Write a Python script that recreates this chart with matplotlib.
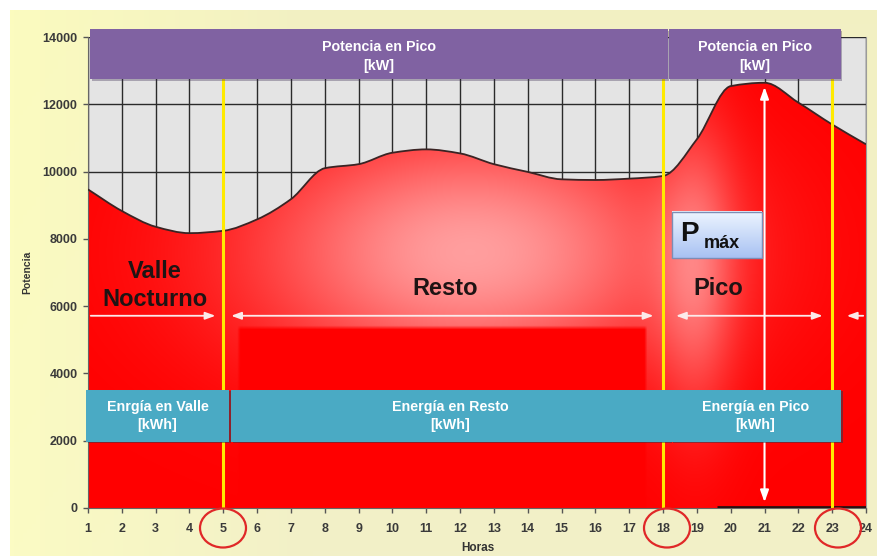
import numpy as np
import matplotlib
matplotlib.use("Agg")
import matplotlib.pyplot as plt
import matplotlib.patches as mpatches
from matplotlib.path import Path
from matplotlib import font_manager as fm

# ---------------- data ----------------
hours = list(range(1, 25))
load_kw = [9470, 8830, 8360, 8170, 8240, 8580, 9180, 10100, 10220, 10560,
           10660, 10540, 10220, 9990, 9770, 9750, 9790, 9870, 10960, 12540,
           12640, 12050, 11400, 10810]
yticks = [0, 2000, 4000, 6000, 8000, 10000, 12000, 14000]
period_bounds = [5, 18, 23]
peak_hour = 21
arrow_level = 5714

top_boxes = [("Potencia en Pico\n[kW]", 1.06, 18.14),
             ("Potencia en Pico\n[kW]", 18.17, 23.25)]
energy_boxes = [("Enrgía en Valle\n[kWh]", 0.94, 5.17),
                ("Energía en Resto\n[kWh]", 5.22, 18.2),
                ("Energía en Pico\n[kWh]", 18.22, 23.25)]

# ---------------- fonts ----------------
avail = {f.name for f in fm.fontManager.ttflist}
base_font = ["Liberation Sans", "DejaVu Sans"] if "Liberation Sans" in avail else ["DejaVu Sans"]
plt.rcParams["font.family"] = base_font
box_font = dict(fontsize=10.3, fontweight="bold")

W, H = 877, 556
fig = plt.figure(figsize=(W / 100, H / 100), dpi=100)
fig.patch.set_facecolor("white")

# background gradient (cream / pale yellow)
bg = fig.add_axes([10 / W, 0, 867 / W, 546 / H], zorder=-10)
bg.axis("off")
gx = np.linspace(0, 1, 200)[None, :]
gy = np.linspace(0, 1, 120)[:, None]
t = np.clip(gx / 0.35, 0, 1)
left = np.array([251, 251, 196]) / 255
right = np.array([242, 240, 200]) / 255
img = left[None, None, :] * (1 - t[..., None]) + right[None, None, :] * t[..., None]
img = img * np.ones((120, 1, 1))
img[..., 2] -= 0.02 * gy
bg.imshow(np.clip(img, 0, 1), aspect="auto", extent=[0, 1, 0, 1], origin="lower")
bg.set_xlim(0, 1); bg.set_ylim(0, 1)

# main axes
x0, x1, ybot, ytop = 88, 866, 508, 37
ax = fig.add_axes([x0 / W, (H - ybot) / H, (x1 - x0) / W, (ybot - ytop) / H])
ax.set_facecolor("#e4e4e4")
ax.set_axisbelow(True)
ax.grid(True, color="#2a2a2a", lw=1.0)

# curve path: monotone cubic rendering through the hourly points
px = np.array(hours, dtype=float)
py = np.array(load_kw, dtype=float)
n = len(px)
d = np.diff(py) / np.diff(px)
m = np.zeros(n)
m[0], m[-1] = d[0], d[-1]
for i in range(1, n - 1):
    if d[i - 1] * d[i] > 0:
        m[i] = 2.0 / (1.0 / d[i - 1] + 1.0 / d[i])
verts = [(px[0], 0), (px[0], py[0])]
codes = [Path.MOVETO, Path.LINETO]
cverts = [(px[0], py[0])]
ccodes = [Path.MOVETO]
for i in range(n - 1):
    h = px[i + 1] - px[i]
    seg = [(px[i] + h / 3, py[i] + m[i] * h / 3),
           (px[i + 1] - h / 3, py[i + 1] - m[i + 1] * h / 3),
           (px[i + 1], py[i + 1])]
    verts += seg; codes += [Path.CURVE4] * 3
    cverts += seg; ccodes += [Path.CURVE4] * 3
verts += [(px[-1], 0), (px[0], 0)]
codes += [Path.LINETO, Path.CLOSEPOLY]
area = mpatches.PathPatch(Path(verts, codes), facecolor="none", edgecolor="none")
ax.add_patch(area)

# red gradient fill
X, Y = np.meshgrid(np.linspace(1, 24, 700), np.linspace(0, 14000, 500))
L = 0.62 * np.exp(-((X - 12.3) / 4.5) ** 2 / 2 - ((Y - 7600) / 2600) ** 2 / 2)
L += 0.32 * np.exp(-((X - 19.0) / 0.8) ** 2 / 2 - ((Y - 7000) / 3000) ** 2 / 2)


def sstep(v, e0, e1):
    return np.clip((v - e0) / (e1 - e0), 0, 1)


mask = sstep(X, 5.40, 5.50) * (1 - sstep(X, 17.45, 17.55)) * (1 - sstep(Y, 5300, 5420))
L = np.clip(L * (1 - mask), 0, 0.68)
rgb = np.stack([np.ones_like(L), L, L], axis=-1)
im = ax.imshow(rgb, extent=[1, 24, 0, 14000], origin="lower", aspect="auto", zorder=2)
im.set_clip_path(area)
ax.add_patch(mpatches.PathPatch(Path(cverts, ccodes), fill=False, edgecolor="#3a2424",
                                lw=1.3, zorder=3))
ax.plot([19.6, 24], [40, 40], color="#2a1010", lw=2, zorder=3, solid_capstyle="butt")

# yellow period lines
for b in period_bounds:
    ax.plot([b, b], [0, 12740], color="#ffea00", lw=2.2, zorder=4)

# horizontal period arrows
akw = dict(arrowstyle="-|>,head_length=0.6,head_width=0.22", color="#fbeaea", lw=1.3)
dkw = dict(arrowstyle="<|-|>,head_length=0.6,head_width=0.22", color="#fbeaea", lw=1.3)
ax.annotate("", xy=(4.85, arrow_level), xytext=(1, arrow_level), arrowprops=akw, zorder=5)
ax.annotate("", xy=(5.15, arrow_level), xytext=(17.8, arrow_level), arrowprops=dkw, zorder=5)
ax.annotate("", xy=(18.3, arrow_level), xytext=(22.8, arrow_level), arrowprops=dkw, zorder=5)
ax.annotate("", xy=(23.35, arrow_level), xytext=(24, arrow_level), arrowprops=akw, zorder=5)
# peak arrow
ax.annotate("", xy=(peak_hour, 90), xytext=(peak_hour, max(load_kw) - 40),
            arrowprops=dict(arrowstyle="<|-|>,head_length=0.7,head_width=0.25",
                            color="#ffffff", lw=1.5), zorder=5)

# Pmax box
bx0, bx1, by0, by1 = 18.26, 20.92, 7440, 8810
grad = np.linspace(0, 1, 50)[:, None]
top_c = np.array([0.93, 0.96, 1.0]); bot_c = np.array([0.66, 0.76, 0.95])
gimg = (bot_c * (1 - grad[..., None]) + top_c * grad[..., None]) * np.ones((1, 2, 1))
ax.imshow(gimg, extent=[bx0, bx1, by0, by1], origin="lower", aspect="auto", zorder=6)
ax.add_patch(mpatches.Rectangle((bx0, by0), bx1 - bx0, by1 - by0, fill=False,
                                edgecolor="#7d8db5", lw=1.0, zorder=6.5))
ax.text(18.79, 8150, "P", fontsize=20, fontweight="bold", color="#111",
        ha="center", va="center", zorder=7)
ax.text(19.73, 7870, "máx", fontsize=13, fontweight="bold", color="#111",
        ha="center", va="center", zorder=7)

# region labels
for txt, hx, vy in [("Valle", 2.98, 7030), ("Nocturno", 2.98, 6190),
                    ("Resto", 11.55, 6520), ("Pico", 19.62, 6520)]:
    ax.text(hx, vy, txt, fontsize=17, fontweight="bold", color="#1e1414",
            ha="center", va="center", zorder=6)

# purple boxes
for label, a, b in top_boxes:
    ax.add_patch(mpatches.Rectangle((a + 0.05, 12680), b - a, 14230 - 12740,
                                    facecolor="#3a2a50", alpha=0.35, edgecolor="none",
                                    zorder=7.5, clip_on=False))
    ax.add_patch(mpatches.Rectangle((a, 12740), b - a, 14230 - 12740,
                                    facecolor="#8062a2", edgecolor="none",
                                    zorder=8, clip_on=False))
    ax.text((a + b) / 2, 13420, label, color="white", ha="center", va="center",
            linespacing=1.4, zorder=9, clip_on=False, **box_font)

# teal boxes
for label, a, b in energy_boxes:
    ax.add_patch(mpatches.Rectangle((a + 0.06, 1940), b - a, 3512 - 1973,
                                    facecolor="#1f3f50", alpha=0.5, edgecolor="none",
                                    zorder=7.5, clip_on=False))
    ax.add_patch(mpatches.Rectangle((a, 1973), b - a, 3512 - 1973,
                                    facecolor="#4aaac4", edgecolor="none",
                                    zorder=8, clip_on=False))
    ax.text((a + b) / 2, 2740, label, color="white", ha="center", va="center",
            linespacing=1.4, zorder=9, clip_on=False, **box_font)

# axes formatting
ax.set_xlim(1, 24)
ax.set_ylim(0, 14000)
ax.set_xticks(hours)
ax.set_yticks(yticks)
ax.tick_params(direction="out", length=3.5, width=1, color="#555555",
               labelsize=9, labelcolor="#3a3a3a")
ax.tick_params(axis="x", pad=7)
ax.tick_params(axis="y", pad=4)
for lbl in ax.get_xticklabels() + ax.get_yticklabels():
    lbl.set_fontweight("bold")
ax.spines["top"].set_visible(False)
ax.spines["right"].set_color("#9a9a9a")
ax.spines["right"].set_linewidth(0.8)
ax.spines["left"].set_color("#666666")
ax.spines["bottom"].set_color("#666666")

fig.text(27 / W, 1 - 272 / H, "Potencia", rotation=90, fontsize=7.5, fontweight="bold",
         color="#333333", ha="center", va="center")
fig.text(478 / W, 1 - 548 / H, "Horas", fontsize=8.5, fontweight="bold",
         color="#333333", ha="center", va="center")

# red circles around the boundary hour labels
for cx in (223, 667, 838):
    fig.add_artist(mpatches.Ellipse((cx / W, 1 - 528 / H), 46 / W, 39 / H,
                                    transform=fig.transFigure, fill=False,
                                    edgecolor="#e02828", lw=1.6))

fig.savefig("out.png", dpi=100)
